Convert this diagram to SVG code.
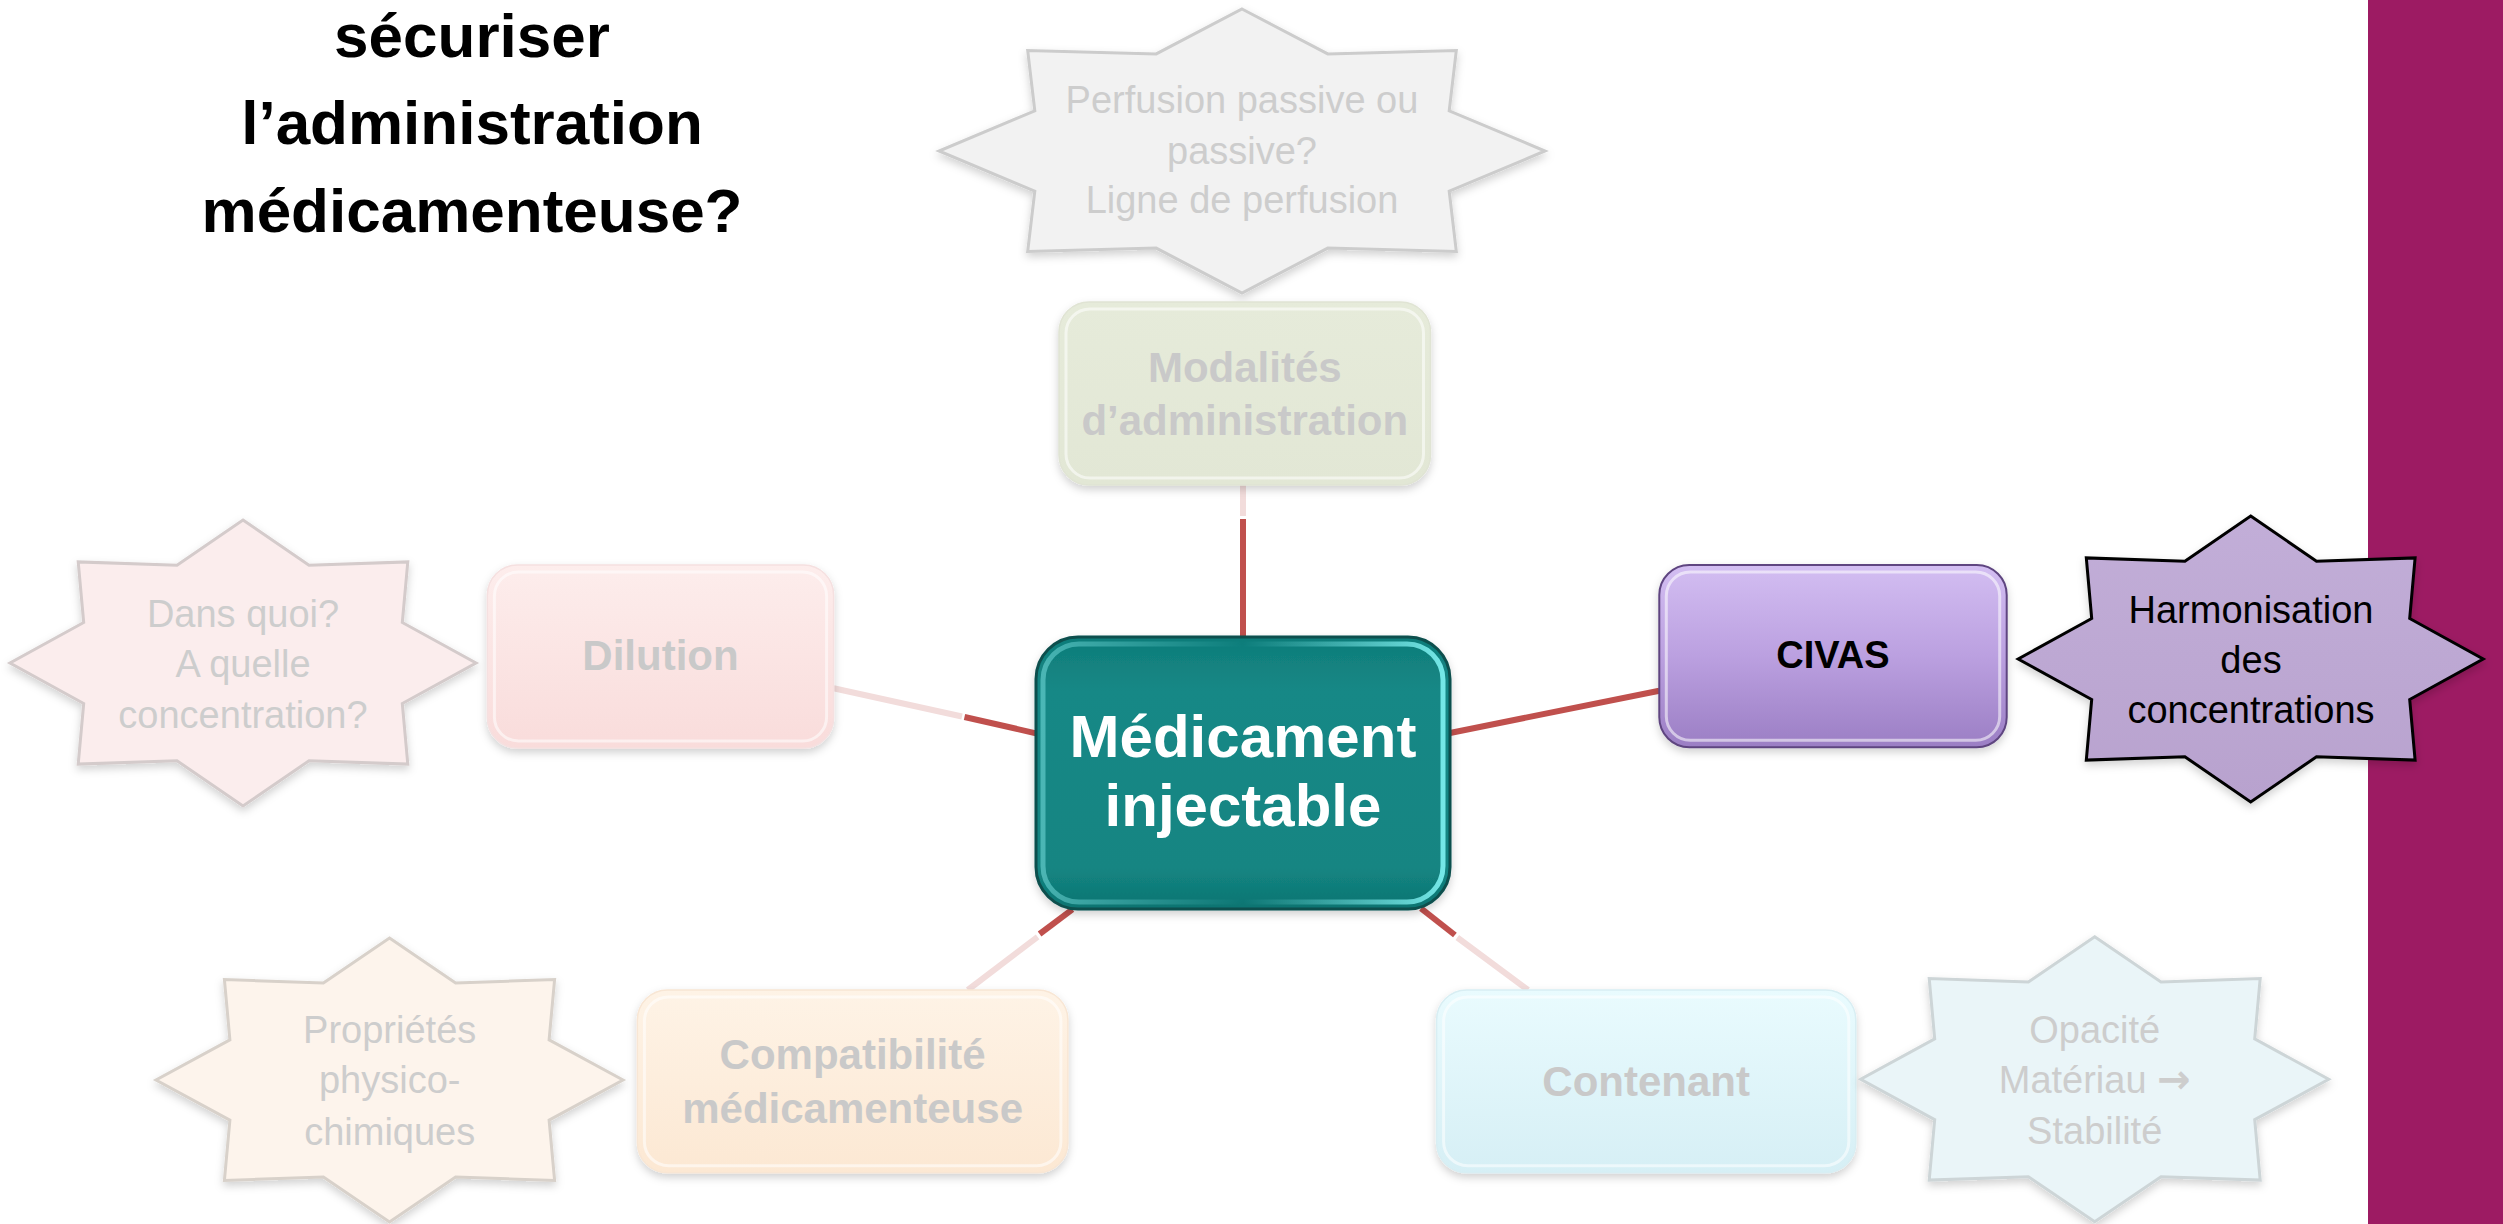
<svg xmlns="http://www.w3.org/2000/svg" width="2503" height="1224" viewBox="0 0 2503 1224">
<defs>
<style>
text{font-family:"Liberation Sans",Arial,sans-serif;text-anchor:middle}
.t-title{font-weight:bold;font-size:62px;fill:#000}
.t-box{font-weight:bold;font-size:42px;fill:#C9C9C9}
.t-star{font-size:38px;fill:#CDCDCD}
.red{stroke:#C0504D;stroke-width:6;fill:none}
.pink{stroke:#F2DCDB;stroke-width:6;fill:none}
.bevel{fill:none;stroke:#FFFFFF;stroke-opacity:0.55;stroke-width:3}
</style>
<filter id="sh" x="-10%" y="-10%" width="120%" height="130%">
<feDropShadow dx="0" dy="4" stdDeviation="4" flood-color="#000" flood-opacity="0.18"/>
</filter>
<linearGradient id="gMod" x1="0" y1="0" x2="0" y2="1"><stop offset="0" stop-color="#E6EBDA"/><stop offset="1" stop-color="#E2E7D5"/></linearGradient>
<linearGradient id="gDil" x1="0" y1="0" x2="0" y2="1"><stop offset="0" stop-color="#FDEDEC"/><stop offset="1" stop-color="#F9DCDB"/></linearGradient>
<linearGradient id="gCmp" x1="0" y1="0" x2="0" y2="1"><stop offset="0" stop-color="#FEF3E6"/><stop offset="1" stop-color="#FCE8D3"/></linearGradient>
<linearGradient id="gCon" x1="0" y1="0" x2="0" y2="1"><stop offset="0" stop-color="#E9FBFE"/><stop offset="1" stop-color="#D6EFF5"/></linearGradient>
<linearGradient id="gCiv" x1="0" y1="0" x2="0" y2="1"><stop offset="0" stop-color="#D3BEF2"/><stop offset="0.5" stop-color="#BBA0E0"/><stop offset="1" stop-color="#9B7EC4"/></linearGradient>
<linearGradient id="gCen" x1="0" y1="0" x2="0" y2="1"><stop offset="0" stop-color="#0F7C79"/><stop offset="0.2" stop-color="#158886"/><stop offset="0.85" stop-color="#138582"/><stop offset="1" stop-color="#0E7471"/></linearGradient>
<linearGradient id="gCenHi" x1="0" y1="0" x2="1" y2="0"><stop offset="0" stop-color="#7FE6E6" stop-opacity="0.5"/><stop offset="0.5" stop-color="#7FE6E6" stop-opacity="0"/><stop offset="1" stop-color="#7FF2F2" stop-opacity="0.9"/></linearGradient>
<linearGradient id="gStarE" x1="0" y1="0" x2="0" y2="1"><stop offset="0" stop-color="#C2AED8"/><stop offset="1" stop-color="#B8A2CE"/></linearGradient>
</defs>

<rect x="0" y="0" width="2503" height="1224" fill="#FFFFFF"/>
<rect id="side-bar" x="2368" y="0" width="135" height="1224" fill="#9D1B63"/>

<g id="title">
<text class="t-title" x="472" y="57">sécuriser</text>
<text class="t-title" x="472" y="144">l’administration</text>
<text class="t-title" x="472" y="232">médicamenteuse?</text>
</g>

<g id="connectors">
<line class="pink" x1="1243" y1="485" x2="1243" y2="516"/>
<line class="red" x1="1243" y1="519" x2="1243" y2="637"/>
<line class="pink" x1="833.6" y1="688.3" x2="962" y2="716.5"/>
<line class="red" x1="964.5" y1="717" x2="1036" y2="733.3"/>
<line class="red" x1="1450" y1="733" x2="1659.3" y2="690.7"/>
<line class="red" x1="1072.4" y1="909.3" x2="1039.6" y2="934"/>
<line class="pink" x1="1037.6" y1="936.8" x2="967.8" y2="990"/>
<line class="red" x1="1421" y1="908.3" x2="1454.9" y2="935"/>
<line class="pink" x1="1457.3" y1="937.5" x2="1528" y2="990"/>
</g>

<g id="star-perfusion">
<polygon points="1242,9 1327.8,53.9 1456.3,50.6 1449.2,110.8 1545,151 1449.2,191.2 1456.3,251.4 1327.8,248.1 1242,293 1156.2,248.1 1027.7,251.4 1034.8,191.2 939,151 1034.8,110.8 1027.7,50.6 1156.2,53.9" fill="#F2F2F2" stroke="#CCCCCC" stroke-width="3" filter="url(#sh)"/>
<text class="t-star" x="1242" y="112.7">Perfusion passive ou</text>
<text class="t-star" x="1242" y="164">passive?</text>
<text class="t-star" x="1242" y="213.3">Ligne de perfusion</text>
</g>

<g id="node-modalites">
<rect x="1059" y="302" width="371.5" height="183" rx="30" fill="url(#gMod)" stroke="#E0E4D4" stroke-width="1.5" filter="url(#sh)"/>
<rect class="bevel" x="1066" y="309" width="357.5" height="169" rx="24"/>
<text class="t-box" x="1244.8" y="381.7">Modalités</text>
<text class="t-box" x="1244.8" y="435">d’administration</text>
</g>

<g id="star-dilution">
<polygon points="243,520 309,565.2 407.8,561.9 402.3,622.5 476,663 402.3,703.5 407.8,764.1 309,760.8 243,806 177,760.8 78.2,764.1 83.7,703.5 10,663 83.7,622.5 78.2,561.9 177,565.2" fill="#FBEDED" stroke="#D4CBCB" stroke-width="3" filter="url(#sh)"/>
<text class="t-star" x="243" y="626.7">Dans quoi?</text>
<text class="t-star" x="243" y="676.7">A quelle</text>
<text class="t-star" x="243" y="727.7">concentration?</text>
</g>

<g id="node-dilution">
<rect x="487.4" y="565" width="346.2" height="183" rx="30" fill="url(#gDil)" stroke="#F5E0E0" stroke-width="1.5" filter="url(#sh)"/>
<rect class="bevel" x="494.4" y="572" width="332.2" height="169" rx="24"/>
<text class="t-box" x="660.5" y="670">Dilution</text>
</g>

<g id="node-medicament">
<rect x="1036" y="637" width="414" height="272" rx="42" fill="url(#gCen)" stroke="#0B4F4E" stroke-width="3" filter="url(#sh)"/>
<rect x="1043" y="644" width="400" height="258" rx="36" fill="none" stroke="url(#gCenHi)" stroke-width="5"/>
<text x="1243" y="757" font-weight="bold" font-size="60" fill="#FFFFFF">Médicament</text>
<text x="1243" y="826" font-weight="bold" font-size="60" fill="#FFFFFF">injectable</text>
</g>

<g id="node-civas">
<rect x="1659.3" y="565" width="347.4" height="182.3" rx="30" fill="url(#gCiv)" stroke="#5E4580" stroke-width="2" filter="url(#sh)"/>
<rect class="bevel" x="1666.3" y="572" width="333.4" height="168.3" rx="24" stroke-opacity="0.45"/>
<text x="1833" y="668" font-weight="bold" font-size="38" fill="#000000">CIVAS</text>
</g>

<g id="star-harmonisation">
<polygon points="2250.7,516 2316.5,561.2 2415.1,557.9 2409.7,618.5 2483.2,659 2409.7,699.5 2415.1,760.1 2316.5,756.8 2250.7,802 2184.9,756.8 2086.3,760.1 2091.7,699.5 2018.2,659 2091.7,618.5 2086.3,557.9 2184.9,561.2" fill="url(#gStarE)" stroke="#000000" stroke-width="3" stroke-linejoin="miter" filter="url(#sh)"/>
<text x="2251" y="622.7" font-size="38" fill="#000000">Harmonisation</text>
<text x="2251" y="673" font-size="38" fill="#000000">des</text>
<text x="2251" y="723" font-size="38" fill="#000000">concentrations</text>
</g>

<g id="star-proprietes">
<polygon points="389.5,938 455.6,982.9 554.6,979.6 549.1,1039.8 623,1080 549.1,1120.2 554.6,1180.4 455.6,1177.1 389.5,1222 323.4,1177.1 224.4,1180.4 229.9,1120.2 156,1080 229.9,1039.8 224.4,979.6 323.4,982.9" fill="#FDF4EC" stroke="#D8D1CA" stroke-width="3" filter="url(#sh)"/>
<text class="t-star" x="389.7" y="1043.3">Propriétés</text>
<text class="t-star" x="389.7" y="1093.3">physico-</text>
<text class="t-star" x="389.7" y="1145">chimiques</text>
</g>

<g id="node-compatibilite">
<rect x="637.4" y="990" width="430.5" height="182.7" rx="30" fill="url(#gCmp)" stroke="#F8E6D4" stroke-width="1.5" filter="url(#sh)"/>
<rect class="bevel" x="644.4" y="997" width="416.5" height="168.7" rx="24"/>
<text class="t-box" x="852.6" y="1069.3">Compatibilité</text>
<text class="t-box" x="852.6" y="1122.7">médicamenteuse</text>
</g>

<g id="node-contenant">
<rect x="1436.6" y="990" width="419.2" height="182.7" rx="30" fill="url(#gCon)" stroke="#D8EEF3" stroke-width="1.5" filter="url(#sh)"/>
<rect class="bevel" x="1443.6" y="997" width="405.2" height="168.7" rx="24"/>
<text class="t-box" x="1646.2" y="1096">Contenant</text>
</g>

<g id="star-opacite">
<polygon points="2094.7,936.8 2161,981.9 2260.2,978.5 2254.7,1038.9 2328.7,1079.3 2254.7,1119.7 2260.2,1180.1 2161,1176.7 2094.7,1221.8 2028.4,1176.7 1929.2,1180.1 1934.7,1119.7 1860.7,1079.3 1934.7,1038.9 1929.2,978.5 2028.4,981.9" fill="#EAF5F8" stroke="#CDD5D7" stroke-width="3" filter="url(#sh)"/>
<text class="t-star" x="2094.7" y="1042.7">Opacité</text>
<text class="t-star" x="2094.7" y="1093.3">Matériau <tspan font-family="'DejaVu Sans',sans-serif" font-weight="bold" font-size="40">→</tspan></text>
<text class="t-star" x="2094.7" y="1144">Stabilité</text>
</g>
</svg>
